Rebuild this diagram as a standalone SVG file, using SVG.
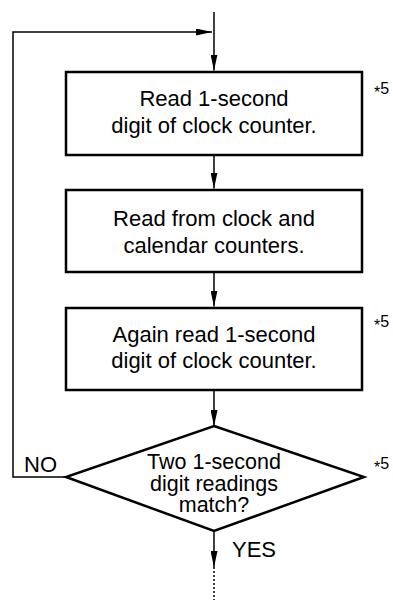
<svg xmlns="http://www.w3.org/2000/svg" width="393" height="600" viewBox="0 0 393 600">
<defs>
<style>
.box{fill:#fff;stroke:#000;stroke-width:2.5}
.ln{fill:none;stroke:#000;stroke-width:1.5}
.t{font-family:"Liberation Sans",Arial,sans-serif;font-size:22px;fill:#000;text-anchor:middle}
.d{font-family:"Liberation Sans",Arial,sans-serif;font-size:21.5px;fill:#000;text-anchor:middle}
.n{font-family:"Liberation Sans",Arial,sans-serif;font-size:16px;fill:#000}
.lbl{font-family:"Liberation Sans",Arial,sans-serif;font-size:22px;fill:#000}
</style>
<marker id="ah" viewBox="0 0 16 7" refX="16" refY="3.5" markerWidth="16" markerHeight="7" markerUnits="userSpaceOnUse" orient="auto">
<path d="M0,0 L16,3.5 L0,7 Z" fill="#000"/>
</marker>
</defs>
<rect width="393" height="600" fill="#fff"/>
<g id="connectors">
<line class="ln" x1="214" y1="12" x2="214" y2="70.5" marker-end="url(#ah)"/>
<polyline class="ln" points="66,477 13,477 13,32 212,32" marker-end="url(#ah)"/>
<line class="ln" x1="214" y1="156" x2="214" y2="188.5" marker-end="url(#ah)"/>
<line class="ln" x1="214" y1="273" x2="214" y2="306.5" marker-end="url(#ah)"/>
<line class="ln" x1="214" y1="391" x2="214" y2="426" marker-end="url(#ah)"/>
<line class="ln" x1="214" y1="531" x2="214" y2="567" marker-end="url(#ah)"/>
<line class="ln" x1="214" y1="567" x2="214" y2="600" stroke-dasharray="2,2"/>
<text class="lbl" x="24" y="472">NO</text>
<text class="lbl" x="232" y="557">YES</text>
</g>
<g id="n1">
<rect class="box" x="66" y="72" width="296" height="83"/>
<text class="t" x="214" y="106">Read 1-second</text>
<text class="t" x="214" y="133">digit of clock counter.</text>
<text class="n" x="374" y="94"><tspan dy="4">*</tspan><tspan dy="-4">5</tspan></text>
</g>
<g id="n2">
<rect class="box" x="66" y="190" width="296" height="82"/>
<text class="t" x="214" y="226">Read from clock and</text>
<text class="t" x="214" y="253">calendar counters.</text>
</g>
<g id="n3">
<rect class="box" x="66" y="308" width="296" height="82"/>
<text class="t" x="214" y="342">Again read 1-second</text>
<text class="t" x="214" y="368">digit of clock counter.</text>
<text class="n" x="374" y="327"><tspan dy="4">*</tspan><tspan dy="-4">5</tspan></text>
</g>
<g id="n4">
<polygon class="box" points="214,426 364,477 214,531 66,477"/>
<text class="d" x="214" y="469">Two 1-second</text>
<text class="d" x="214" y="490.5">digit readings</text>
<text class="d" x="214" y="512">match?</text>
<text class="n" x="374" y="469"><tspan dy="4">*</tspan><tspan dy="-4">5</tspan></text>
</g>
</svg>
